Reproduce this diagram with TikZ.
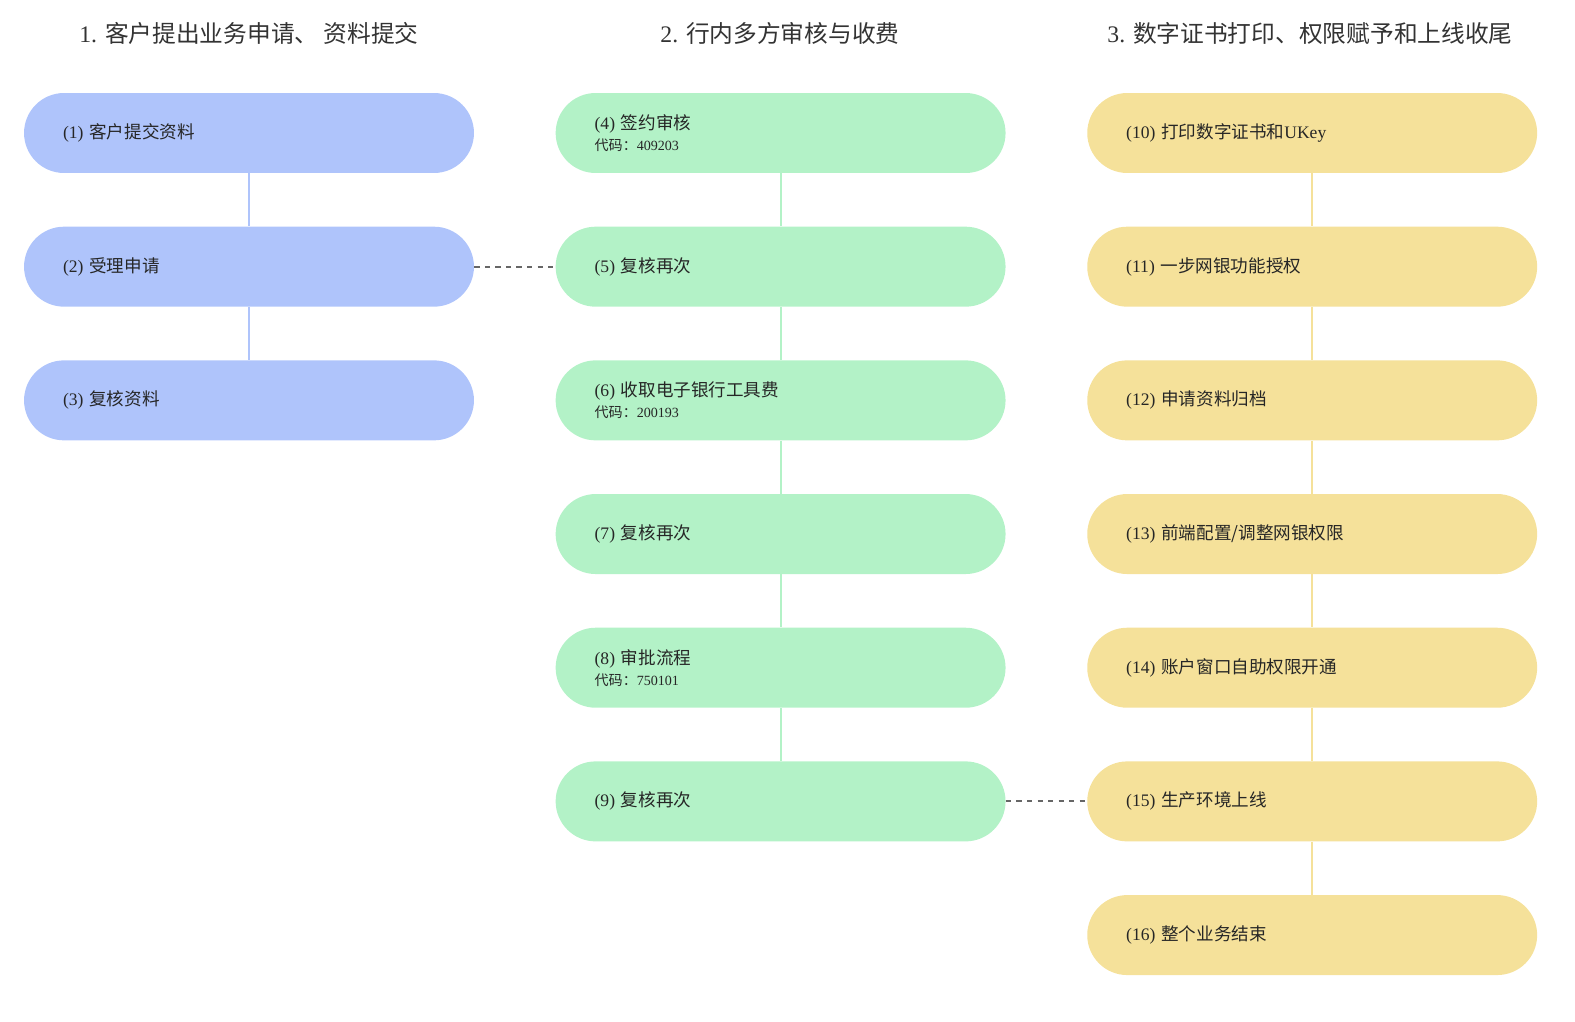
\documentclass[tikz,border=0pt]{standalone}
\usepackage{fontspec}
\setmainfont{Liberation Serif}
\newfontfamily\cjk{Noto Sans CJK SC}
\usetikzlibrary{positioning}
\definecolor{stepblue}{HTML}{AFC4FB}
\definecolor{stepgreen}{HTML}{B3F2C7}
\definecolor{stepyellow}{HTML}{F5E19A}
\definecolor{linkgray}{HTML}{666666}
\newcommand{\code}[1]{\\[-1pt]{\fontsize{8}{10}\selectfont{\cjk 代码：}#1}}
\begin{document}
\begin{tikzpicture}[x=0.02cm,y=-0.02cm,node distance=1.06cm and 1.62cm,
  step node/.style={rounded corners=0.8cm,minimum height=1.6cm,text width=7.44cm,
    inner xsep=0.78cm,inner ysep=0pt,align=left,font=\fontsize{10}{13}\selectfont,text=black!85},
  blue node/.style={step node,fill=stepblue},
  green node/.style={step node,fill=stepgreen},
  yellow node/.style={step node,fill=stepyellow},
  title/.style={font=\fontsize{13.5}{16}\selectfont,text=black!80},
  link/.style={line width=1.2pt,draw=#1},
  cross/.style={line width=1.2pt,draw=linkgray,dash pattern=on 3pt off 3pt}]
 \useasboundingbox (0,0) rectangle (1575,1021);
 % column titles
 \node[title] (t1) at (249,33) {1. {\cjk 客户提出业务申请、 资料提交}};
 \node[title] (t2) at (780,33) {2. {\cjk 行内多方审核与收费}};
 \node[title] (t3) at (1310,33) {3. {\cjk 数字证书打印、权限赋予和上线收尾}};
 % column 1
 \node[blue node] (1) at (249,133) {(1) {\cjk 客户提交资料}};
 \node[blue node] (2) [below=of 1] {(2) {\cjk 受理申请}};
 \node[blue node] (3) [below=of 2] {(3) {\cjk 复核资料}};
 % column 2
 \node[green node] (4) [right=of 1] {(4) {\cjk 签约审核}\code{409203}};
 \node[green node] (5) [below=of 4] {(5) {\cjk 复核再次}};
 \node[green node] (6) [below=of 5] {(6) {\cjk 收取电子银行工具费}\code{200193}};
 \node[green node] (7) [below=of 6] {(7) {\cjk 复核再次}};
 \node[green node] (8) [below=of 7] {(8) {\cjk 审批流程}\code{750101}};
 \node[green node] (9) [below=of 8] {(9) {\cjk 复核再次}};
 % column 3
 \node[yellow node] (10) [right=of 4] {(10) {\cjk 打印数字证书和}UKey};
 \node[yellow node] (11) [below=of 10] {(11) {\cjk 一步网银功能授权}};
 \node[yellow node] (12) [below=of 11] {(12) {\cjk 申请资料归档}};
 \node[yellow node] (13) [below=of 12] {(13) {\cjk 前端配置/调整网银权限}};
 \node[yellow node] (14) [below=of 13] {(14) {\cjk 账户窗口自助权限开通}};
 \node[yellow node] (15) [below=of 14] {(15) {\cjk 生产环境上线}};
 \node[yellow node] (16) [below=of 15] {(16) {\cjk 整个业务结束}};

 \foreach \a/\b in {1/2,2/3}
  \draw[link=stepblue] (\a) -- (\b);
 \foreach \a/\b in {4/5,5/6,6/7,7/8,8/9}
  \draw[link=stepgreen] (\a) -- (\b);
 \foreach \a/\b in {10/11,11/12,12/13,13/14,14/15,15/16}
  \draw[link=stepyellow] (\a) -- (\b);
 \draw[cross] (2) -- (5);
 \draw[cross] (9) -- (15);
\end{tikzpicture}
\end{document}
